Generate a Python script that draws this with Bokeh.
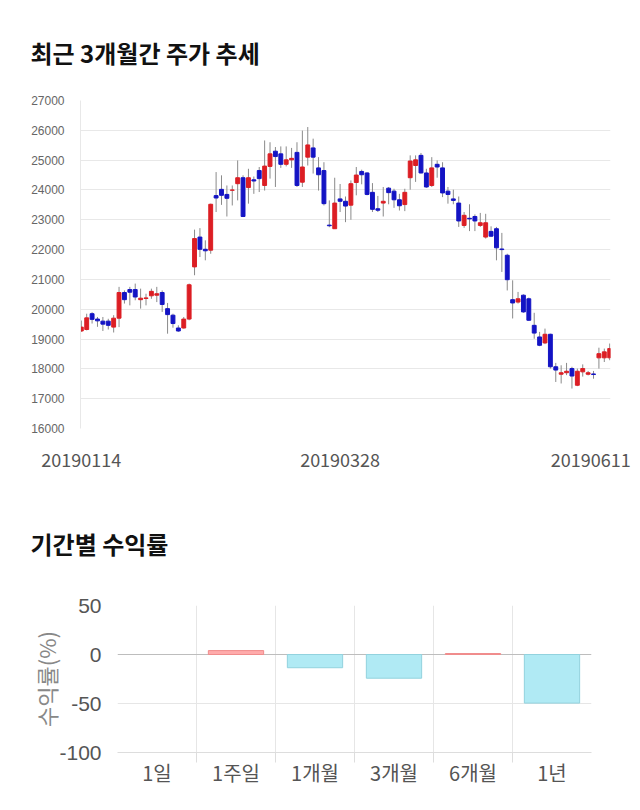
from bokeh.plotting import figure
from bokeh.models import FixedTicker, ColumnDataSource, Range1d, Span
from bokeh.layouts import column
from bokeh.embed import file_html
from bokeh.resources import INLINE

# ---------------- data: daily candles (index 0 = 20190114) ----------------
opens = [19270, 19320, 19850, 19670, 19600, 19600, 19400, 19700, 20560, 20660,
         20660, 20320, 20360, 20450, 20470, 20560, 20020, 19800, 19370, 19370,
         19670, 21420, 22420, 22010, 21980, 23810, 24020, 23850, 23990, 24210,
         24410, 24080, 24340, 24650, 24150, 24790, 25300, 25210, 24860, 25010,
         25260, 24260, 25100, 25410, 24740, 24650, 22820, 22700, 23700, 23620,
         23490, 24250, 24620, 24570, 23920, 23370, 23560, 24060, 23960, 23670,
         23510, 24410, 24820, 25160, 24570, 24150, 24860, 24740, 23960, 23700,
         23560, 22810, 23050, 23110, 22810, 22420, 22610, 22700, 22020, 21810,
         20320, 20240, 20470, 20350, 19460, 19070, 18870, 19160, 18070, 17820,
         17870, 18010, 17450, 17900, 17820, 17830, 18370, 18370, 18370]
highs = [19620, 19850, 19900, 19740, 19740, 19680, 19800, 20750, 20630, 20750,
         20860, 20690, 20520, 20690, 20750, 20630, 20210, 19850, 19460, 19740,
         20860, 22670, 22720, 22310, 23540, 24600, 24490, 24150, 24150, 24990,
         24490, 24710, 24450, 24770, 25660, 25600, 25440, 25460, 25460, 25410,
         25600, 25990, 26110, 25720, 25100, 24930, 23650, 24410, 24200, 23780,
         24320, 24770, 24680, 24600, 24230, 23800, 24100, 24100, 24040, 23870,
         24040, 25160, 25160, 25240, 24710, 25100, 24990, 24930, 24100, 24010,
         23780, 23260, 23520, 23180, 23230, 23200, 22780, 22760, 22560, 21860,
         20970, 20580, 20500, 20390, 19880, 19240, 19350, 19180, 18200, 18120,
         18200, 18070, 18010, 18150, 17930, 17930, 18710, 18680, 18850]
lows = [19240, 19290, 19520, 19410, 19270, 19320, 19220, 19400, 20190, 20130,
        20300, 20020, 20130, 20350, 20240, 19910, 19180, 19380, 19240, 19350,
        19630, 21140, 21750, 21640, 21860, 23260, 23500, 23110, 23480, 23650,
        23090, 23540, 23870, 23930, 23980, 24380, 24100, 24740, 24790, 24740,
        24100, 24100, 24820, 24550, 23980, 23480, 22750, 22700, 23260, 22920,
        23000, 23820, 24190, 23820, 23260, 23260, 23110, 23520, 23400, 23310,
        23290, 24010, 24270, 24550, 24070, 24100, 24410, 23760, 23540, 23520,
        22760, 22730, 22620, 22620, 22760, 22370, 22420, 21640, 21250, 20630,
        19690, 20190, 19880, 19610, 19010, 18760, 18830, 18010, 17560, 17510,
        17790, 17340, 17420, 17740, 17780, 17670, 18010, 18230, 18290]
closes = [19400, 19710, 19660, 19610, 19500, 19460, 19700, 20560, 20320, 20570,
          20410, 20370, 20380, 20600, 20520, 20160, 19820, 19520, 19270, 19670,
          20820, 22370, 22010, 21960, 23520, 23730, 23820, 23720, 24000, 24410,
          23110, 24410, 24300, 24380, 24800, 25210, 25120, 24860, 25010, 25060,
          24150, 24770, 25510, 25100, 24510, 23540, 22800, 23560, 23620, 23460,
          24210, 24500, 24510, 23850, 23350, 23320, 23620, 23910, 23670, 23470,
          23920, 24970, 25010, 24570, 24100, 24740, 24770, 23900, 23850, 23650,
          22960, 23150, 23030, 22960, 22900, 22900, 22450, 22060, 22000, 20990,
          20210, 20350, 19910, 19630, 19200, 18790, 19160, 18070, 17960, 17870,
          17920, 17760, 17920, 18010, 17870, 17810, 18510, 18570, 18680]
date_tick_index = [0, 48, 98]
date_tick_labels = ["20190114", "20190328", "20190611"]
price_ticks = [16000, 17000, 18000, 19000, 20000, 21000, 22000, 23000,
               24000, 25000, 26000, 27000]

# ---------------- data: period returns ----------------
periods = ["1일", "1주일", "1개월", "3개월", "6개월", "1년"]
returns = [0.0, 4.0, -13.5, -24.2, 1.0, -49.6]
return_ticks = [-100, -50, 0, 50]

# ---------------- styles ----------------
UP = "#dc1e24"
DOWN = "#1414c4"
FLAT = "#333333"
WICK = "#8a8a8a"
GRID = "#e8e8e8"
POS_FILL, POS_LINE = "#ffabab", "#f08c8c"
NEG_FILL, NEG_LINE = "#b0eaf4", "#92d2de"
CLEAR = "rgba(0,0,0,0)"
KR = "Noto Sans CJK KR"

# ================= candlestick figure =================
x = list(range(len(opens)))
body_col = [UP if c > o else (DOWN if c < o else FLAT) for o, c in zip(opens, closes)]
src = ColumnDataSource(dict(
    x=x, top=[max(o, c) for o, c in zip(opens, closes)],
    bottom=[min(o, c) for o, c in zip(opens, closes)],
    high=highs, low=lows, color=body_col))

x_start, x_end = -0.15, len(opens) - 1 + 0.15
p1 = figure(width=640, height=476, x_range=Range1d(x_start, x_end),
            y_range=Range1d(price_ticks[0], price_ticks[-1]),
            output_backend="svg", toolbar_location=None,
            min_border_left=80, min_border_right=30,
            min_border_top=100, min_border_bottom=48,
            title="최근 3개월간 주가 추세")
p1.frame_align = False
p1.outline_line_color = None
p1.segment(x0="x", x1="x", y0="low", y1="high", source=src, line_color=WICK, line_width=1)
p1.vbar(x="x", top="top", bottom="bottom", width=0.72, source=src,
        fill_color="color", line_color="color", line_width=1)

px_per_unit = 530 / (x_end - x_start)
tick_pos = list(date_tick_index)
tick_pos[-1] = round(tick_pos[-1] - 19 / px_per_unit, 1)  # keep last label on canvas
p1.xaxis.ticker = FixedTicker(ticks=tick_pos)
p1.xaxis.major_label_overrides = {t: lab for t, lab in zip(tick_pos, date_tick_labels)}
p1.xaxis.axis_line_color = None
p1.xaxis.major_tick_line_color = None
p1.xaxis.minor_tick_line_color = None
p1.xaxis.major_label_standoff = 18
p1.xaxis.major_label_text_font = KR
p1.xaxis.major_label_text_font_size = "18px"
p1.xaxis.major_label_text_color = "#555555"
p1.xgrid.grid_line_color = None

p1.yaxis.ticker = FixedTicker(ticks=price_ticks)
p1.yaxis.axis_line_color = GRID
p1.yaxis.major_tick_line_color = None
p1.yaxis.minor_tick_line_color = None
p1.yaxis.major_label_standoff = 10
p1.yaxis.major_label_text_font = "Liberation Sans"
p1.yaxis.major_label_text_font_size = "12px"
p1.yaxis.major_label_text_color = "#666666"
p1.ygrid.grid_line_color = GRID
p1.ygrid.ticker = FixedTicker(ticks=price_ticks)

p1.title.text_font = KR
p1.title.text_font_style = "bold"
p1.title.text_font_size = "24px"
p1.title.text_color = "#111111"
p1.title.align = "left"
p1.title.offset = -50
p1.title.standoff = 62

# ================= returns bar figure =================
centers = [i + 0.5 for i in range(len(periods))]
bsrc = ColumnDataSource(dict(
    x=centers, top=returns,
    fill=[POS_FILL if r > 0 else (NEG_FILL if r < 0 else CLEAR) for r in returns],
    line=[POS_LINE if r > 0 else (NEG_LINE if r < 0 else CLEAR) for r in returns]))

p2 = figure(width=640, height=334, x_range=Range1d(0, len(periods)),
            y_range=Range1d(return_ticks[0], return_ticks[-1]),
            output_backend="svg", toolbar_location=None,
            min_border_left=117, min_border_right=49,
            min_border_top=129, min_border_bottom=58,
            title="기간별 수익률")
p2.frame_align = False
p2.outline_line_color = None
p2.add_layout(Span(location=0, dimension="width", line_color="#bdbdbd",
                   line_width=1, level="underlay"))
p2.vbar(x="x", top="top", bottom=0, width=0.7, source=bsrc,
        fill_color="fill", line_color="line", line_width=1)

p2.xaxis.ticker = FixedTicker(ticks=centers, minor_ticks=list(range(1, len(periods))))
p2.xaxis.major_label_overrides = {c: lab for c, lab in zip(centers, periods)}
p2.xaxis.major_tick_line_color = None
p2.xaxis.minor_tick_in = 0
p2.xaxis.minor_tick_out = 10
p2.xaxis.minor_tick_line_color = "#dddddd"
p2.xaxis.axis_line_color = "#dddddd"
p2.xaxis.major_label_standoff = -5
p2.xaxis.major_label_text_font = KR
p2.xaxis.major_label_text_font_size = "20px"
p2.xaxis.major_label_text_color = "#555555"
p2.xgrid.ticker = FixedTicker(ticks=list(range(0, len(periods))))
p2.xgrid.grid_line_color = "#e6e6e6"

p2.yaxis.ticker = FixedTicker(ticks=return_ticks)
p2.yaxis.major_label_overrides = {t: str(t) for t in return_ticks}
p2.yaxis.axis_line_color = None
p2.yaxis.major_tick_line_color = None
p2.yaxis.minor_tick_line_color = None
p2.yaxis.major_label_standoff = 10
p2.yaxis.major_label_text_font = "Liberation Sans"
p2.yaxis.major_label_text_font_size = "21px"
p2.yaxis.major_label_text_color = "#555555"
p2.yaxis.axis_label = "수익률(%)"
p2.yaxis.axis_label_text_font = KR
p2.yaxis.axis_label_text_font_style = "normal"
p2.yaxis.axis_label_text_font_size = "22px"
p2.yaxis.axis_label_text_color = "#888888"
p2.yaxis.axis_label_standoff = -6
p2.ygrid.ticker = FixedTicker(ticks=[t for t in return_ticks if t != 0])
p2.ygrid.grid_line_color = "#e6e6e6"

p2.title.text_font = KR
p2.title.text_font_style = "bold"
p2.title.text_font_size = "24px"
p2.title.text_color = "#111111"
p2.title.align = "left"
p2.title.offset = -87
p2.title.standoff = 90

layout = column(p1, p2, spacing=0)
open("out.html", "w").write(file_html(layout, INLINE))
